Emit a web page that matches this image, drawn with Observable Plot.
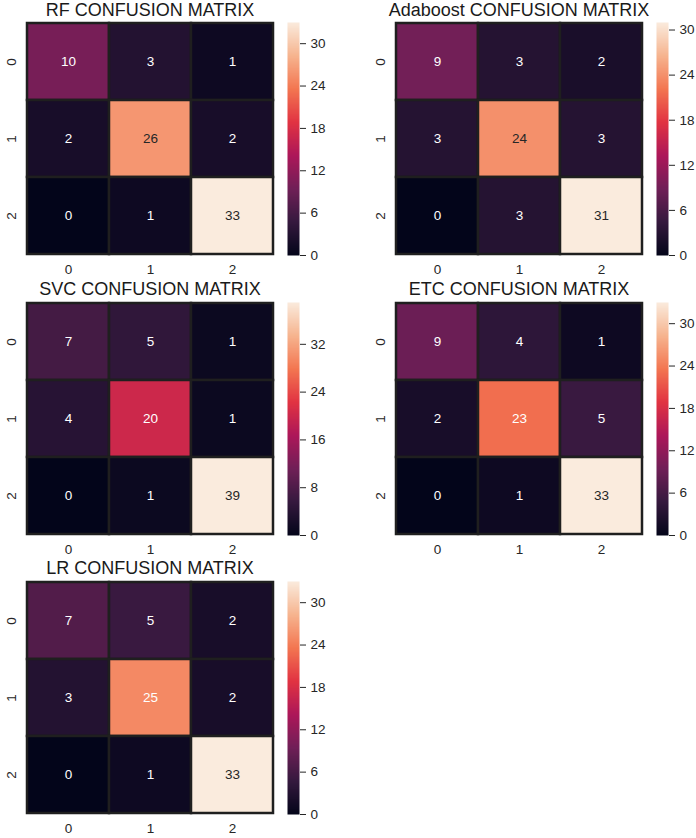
<!DOCTYPE html>
<html>
<head>
<meta charset="utf-8">
<script src="https://cdn.jsdelivr.net/npm/d3@7"></script>
<script src="https://cdn.jsdelivr.net/npm/@observablehq/plot@0.6"></script>
<style>
  html, body { margin: 0; padding: 0; background: #ffffff; }
  #root { position: relative; width: 696px; height: 838px; background: #ffffff; overflow: hidden;
          font-family: "Liberation Sans", Arial, "DejaVu Sans", sans-serif; color: #262626; }
  .title { position: absolute; width: 300px; height: 16px; line-height: 16px; text-align: center;
           font-size: 18px; color: #1a1a1a; white-space: nowrap; }
  .abs { position: absolute; }
</style>
</head>
<body>
<div id="root"></div>
<script>
// ---- data ----
const classes = ["0", "1", "2"];
const titles = ["RF CONFUSION MATRIX", "Adaboost CONFUSION MATRIX", "SVC CONFUSION MATRIX", "ETC CONFUSION MATRIX", "LR CONFUSION MATRIX"];
const rfMatrix  = [[10, 3, 1], [2, 26, 2], [0, 1, 33]];
const adaMatrix = [[9, 3, 2], [3, 24, 3], [0, 3, 31]];
const svcMatrix = [[7, 5, 1], [4, 20, 1], [0, 1, 39]];
const etcMatrix = [[9, 4, 1], [2, 23, 5], [0, 1, 33]];
const lrMatrix  = [[7, 5, 2], [3, 25, 2], [0, 1, 33]];
const rfTicks  = [0, 6, 12, 18, 24, 30];
const adaTicks = [0, 6, 12, 18, 24, 30];
const svcTicks = [0, 8, 16, 24, 32];
const etcTicks = [0, 6, 12, 18, 24, 30];
const lrTicks  = [0, 6, 12, 18, 24, 30];

// seaborn "rocket" colormap stops
const rocketStops = ["#03051a", "#35193e", "#701f57", "#ad1759", "#e13342", "#f37651", "#f6b48f", "#faebdd"];
const rocket = d3.piecewise(d3.interpolateRgb, rocketStops);

function luminance(c) {
  const rgb = d3.rgb(c);
  const lin = v => { v /= 255; return v <= 0.03928 ? v / 12.92 : Math.pow((v + 0.055) / 1.055, 2.4); };
  return 0.2126 * lin(rgb.r) + 0.7152 * lin(rgb.g) + 0.0722 * lin(rgb.b);
}

const FONT = '"Liberation Sans", Arial, "DejaVu Sans", sans-serif';
const root = document.getElementById("root");

const panels = [
  {title: titles[0], m: rfMatrix,  ticks: rfTicks,  left: 27,  top: 22},
  {title: titles[1], m: adaMatrix, ticks: adaTicks, left: 396, top: 22},
  {title: titles[2], m: svcMatrix, ticks: svcTicks, left: 27,  top: 302},
  {title: titles[3], m: etcMatrix, ticks: etcTicks, left: 396, top: 302},
  {title: titles[4], m: lrMatrix,  ticks: lrTicks,  left: 27,  top: 581}
];

const FW = 246, FH = 233;

for (const p of panels) {
  const data = p.m.flatMap((row, i) => row.map((v, j) => ({row: classes[i], col: classes[j], v})));
  const vmin = d3.min(data, d => d.v), vmax = d3.max(data, d => d.v);
  const colorOpts = {type: "linear", domain: [vmin, vmax], interpolate: rocket};
  const isDark = d => luminance(rocket((d.v - vmin) / (vmax - vmin))) > 0.39;

  const heat = Plot.plot({
    width: 27 + FW + 6, height: 5 + FH + 28,
    marginLeft: 27, marginRight: 6, marginTop: 5, marginBottom: 28,
    style: {fontFamily: FONT, fontSize: "13.5px", color: "#262626", background: "transparent", overflow: "visible"},
    x: {domain: classes, padding: 0, label: null, tickSize: 0, tickPadding: 9},
    y: {domain: classes, padding: 0, label: null, tickSize: 0, tickPadding: 12, tickRotate: -90},
    color: colorOpts,
    marks: [
      Plot.cell(data, {x: "col", y: "row", fill: "v", stroke: "#1f1f1f", strokeWidth: 2.5, inset: 0}),
      Plot.text(data.filter(d => !isDark(d)), {x: "col", y: "row", text: d => String(d.v), fill: "#ffffff", fontSize: 13.5}),
      Plot.text(data.filter(d => isDark(d)), {x: "col", y: "row", text: d => String(d.v), fill: "#262626", fontSize: 13.5})
    ]
  });
  heat.classList.add("abs");
  heat.style.left = (p.left - 27) + "px";
  heat.style.top = (p.top - 5) + "px";
  root.appendChild(heat);

  const bar = Plot.plot({
    width: 12 + 38, height: 5 + FH + 5,
    marginLeft: 0, marginRight: 38, marginTop: 5, marginBottom: 5,
    style: {fontFamily: FONT, fontSize: "13.5px", color: "#262626", background: "transparent", overflow: "visible"},
    x: {domain: [0, 1], axis: null},
    y: {domain: [vmin, vmax], axis: "right", ticks: p.ticks, tickSize: 6, tickPadding: 5, label: null},
    color: colorOpts,
    marks: [
      Plot.raster({x1: 0, x2: 1, y1: vmin, y2: vmax, width: 1, height: 256, fill: (x, y) => y, imageRendering: "auto"})
    ]
  });
  bar.classList.add("abs");
  bar.style.left = (p.left + 260) + "px";
  bar.style.top = (p.top - 5) + "px";
  root.appendChild(bar);

  const t = document.createElement("div");
  t.className = "title";
  t.textContent = p.title;
  t.style.left = (p.left + 123 - 150) + "px";
  t.style.top = Math.max(2, p.top - 21) + "px";
  root.appendChild(t);
}
</script>
</body>
</html>
